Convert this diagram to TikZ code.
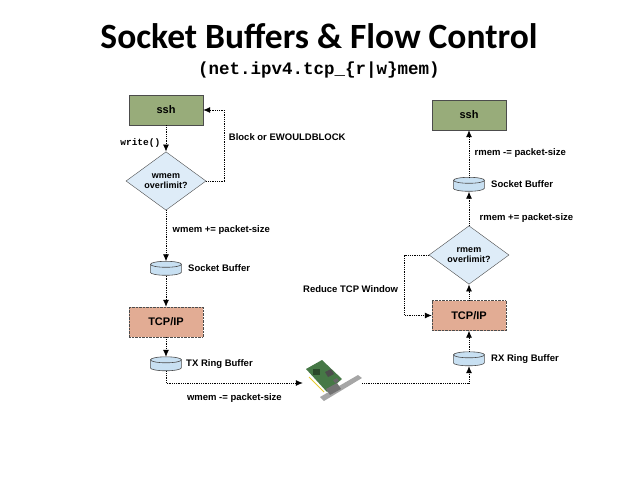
\documentclass[tikz,border=0pt]{standalone}
\usepackage{fontspec}
\setmainfont{Liberation Sans}
\setmonofont{Liberation Mono}
\newfontfamily\titlefont{Carlito}
\usetikzlibrary{shapes.geometric,arrows.meta}
\definecolor{sshgreen}{RGB}{152,172,122}
\definecolor{tcpsalmon}{RGB}{226,172,148}
\definecolor{checkblue}{RGB}{222,236,248}
\definecolor{bufblue}{RGB}{200,224,242}
\definecolor{nicgreen}{RGB}{70,120,70}
\begin{document}
\begin{tikzpicture}[x=1pt,y=-1pt,
    font=\bfseries\fontsize{9.5}{11}\selectfont,
    appbox/.style={draw=black!70, fill=sshgreen, minimum width=74pt, minimum height=30pt, font=\bfseries\fontsize{11}{13}\selectfont},
    stackbox/.style={draw=black!70, densely dotted, fill=tcpsalmon, minimum width=74pt, minimum height=30pt, font=\bfseries\fontsize{11}{13}\selectfont},
    check/.style={diamond, draw=black!70, fill=checkblue, minimum width=80pt, minimum height=57pt, inner sep=0pt, align=center, font=\bfseries\fontsize{9}{10.5}\selectfont},
    buffer/.style={minimum width=31pt, minimum height=14pt, inner sep=0pt},
    bufline/.style={draw=black!70, fill=bufblue, line width=0.6pt},
    flow/.style={densely dotted, line width=0.8pt, -{Latex[length=7pt,width=6pt]}}]
    \useasboundingbox (0,0) rectangle (638,479);

    % Tiêu đề
    \node[anchor=base, font=\titlefont\bfseries\fontsize{35.5}{40}\selectfont] (title) at (319,48) {Socket Buffers \& Flow Control};
    \node[anchor=base, font=\ttfamily\bfseries\fontsize{17.5}{20}\selectfont] (subtitle) at (319,74) {(net.ipv4.tcp\_\{r|w\}mem)};

    % Bên gửi
    \node[appbox] (sshL) at (166,110) {ssh};
    \node[check] (chkL) at (166,181) {wmem\\overlimit?};
    \node[buffer] (sbufL) at (166,268.5) {};
    \node[anchor=west] (sbufLtxt) at ([xshift=3pt]sbufL.east) {Socket Buffer};
    \node[stackbox] (tcpL) at (166,322) {TCP/IP};
    \node[buffer] (txbuf) at (166,364) {};
    \node[anchor=west] (txbuftxt) at ([xshift=1pt]txbuf.east) {TX Ring Buffer};

    % Bên nhận
    \node[appbox] (sshR) at (469,115) {ssh};
    \node[buffer] (sbufR) at (469,184.5) {};
    \node[anchor=west] (sbufRtxt) at ([xshift=3pt]sbufR.east) {Socket Buffer};
    \node[check] (chkR) at (469,255) {rmem\\overlimit?};
    \node[stackbox] (tcpR) at (469,315.5) {TCP/IP};
    \node[buffer] (rxbuf) at (469,359) {};
    \node[anchor=west] (rxbuftxt) at ([xshift=3pt]rxbuf.east) {RX Ring Buffer};

    % Các bộ đệm (hình trụ)
    \foreach \b in {sbufL,txbuf,sbufR,rxbuf}{
        \draw[bufline] (\b.north west) ++(0,3) -- ++(0,8) arc[start angle=180, end angle=0, x radius=15.5, y radius=3] -- ++(0,-8) -- cycle;
        \draw[bufline] (\b.north) ++(0,3) ellipse[x radius=15.5, y radius=3];
    }

    % Luồng gửi
    \draw[flow] (sshL) -- node[pos=0.67, left=2pt, font=\ttfamily\bfseries\fontsize{9.5}{11}\selectfont] (writetxt) {write()} (chkL);
    \draw[flow] (chkL.east) -- ++(18,0) |- node[pos=0.31, right=1pt] (blocktxt) {Block or EWOULDBLOCK} (sshL.east);
    \draw[flow] (chkL) -- node[pos=0.38, right=3pt] (wmemadd) {wmem += packet-size} (sbufL);
    \draw[flow] (sbufL) -- (tcpL);
    \draw[flow] (tcpL) -- (txbuf);

    % Card mạng
    \node[minimum width=59pt, minimum height=40pt, inner sep=0pt] (nic) at (332.5,383) {};
    \fill[nicgreen] (306,369) -- (322,360) -- (342,379) -- (327,392) -- cycle;
    \fill[nicgreen!60!black] (313,369) rectangle (320,375);
    \fill[black!70] (325,372) -- (331,369) -- (334,374) -- (328,377) -- cycle;
    \fill[black!60] (333,380) -- (337,378) -- (339,381) -- (335,383) -- cycle;
    \draw[yellow!60!brown, line width=1pt] (309,377) -- (324,392);
    \fill[black!35] (320,397) -- (358,375) -- (362,378) -- (324,401) -- cycle;
    \fill[black!55] (326,389) -- (337,383) -- (341,389) -- (330,395) -- cycle;

    \draw[flow] (txbuf.south) |- node[pos=0.75, below=7pt] (wmemsub) {wmem -= packet-size} (nic.west);
    \draw[flow] (nic.east) -| (rxbuf.south);

    % Luồng nhận
    \draw[flow] (rxbuf) -- (tcpR);
    \draw[flow] (tcpR) -- (chkR);
    \draw[flow] (chkR.west) -- ++(-24,0) |- node[pos=0.28, left=3pt] (reducetxt) {Reduce TCP Window} (tcpR.west);
    \draw[flow] (chkR) -- node[pos=0.23, right=7pt] (rmemadd) {rmem += packet-size} (sbufR);
    \draw[flow] (sbufR) -- node[pos=0.51, right=2pt] (rmemsub) {rmem -= packet-size} (sshR);
\end{tikzpicture}
\end{document}
